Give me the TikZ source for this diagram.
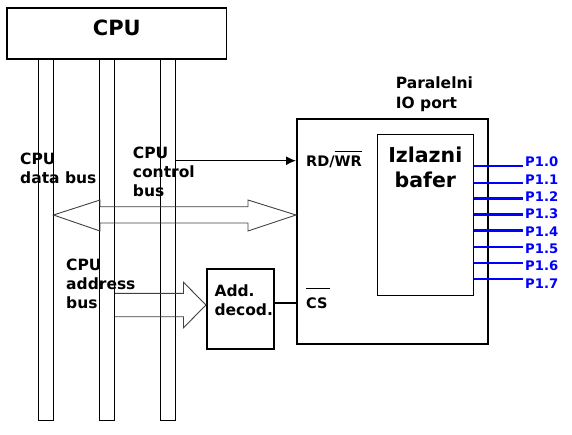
\documentclass[tikz,border=0pt]{standalone}
\usepackage{fontspec}
\setmainfont{DejaVu Sans}
\usetikzlibrary{arrows.meta,calc}
\newcommand{\ovbar}[2]{\vbox{\hrule height 1pt\kern#1\hbox{#2}}}
\tikzset{
  lbl/.style={font=\bfseries\fontsize{15.5}{19}\selectfont, inner sep=0pt, anchor=base west, align=left},
  small/.style={font=\bfseries\fontsize{14.5}{17}\selectfont, inner sep=0pt, anchor=base west},
  plbl/.style={font=\bfseries\fontsize{13.2}{16}\selectfont, inner sep=0pt, anchor=base west, text=pblue},
  colbox/.style={draw, line width=1pt, minimum width=14.5pt, minimum height=361pt, inner sep=0pt},
  thickbox/.style={draw, line width=2pt, inner sep=0pt},
  bus/.style={draw=black!75, line width=0.9pt, line join=miter},
  pline/.style={draw=pblue, line width=2.2pt},
}
\definecolor{pblue}{RGB}{0,0,255}
\begin{document}
\begin{tikzpicture}[x=1pt,y=-1pt]
\useasboundingbox (0,0) rectangle (572,434);
% columns
\node[colbox] (col1) at (45.75,239.5) {};
\node[colbox] (col2) at (107,239.5) {};
\node[colbox] (col3) at (168,239.5) {};
% CPU box
\node[draw, line width=1.3pt, minimum width=219.5pt, minimum height=51pt, inner sep=0pt, fill=white] (cpu) at (116.8,33.5) {};
\node[font=\bfseries\fontsize{21}{25}\selectfont, inner sep=0pt, anchor=base] (cputxt) at (116.8,35.7) {CPU};
% port box
\node[thickbox, minimum width=191.3pt, minimum height=224.7pt] (port) at (392.65,231.65) {};
\node[draw, line width=1pt, inner sep=0pt, minimum width=96pt, minimum height=160.7pt] (buf) at (425.3,214.65) {};
\node[font=\bfseries\fontsize{20.5}{25.4}\selectfont, inner sep=0pt, anchor=base, align=center] (buftxt) at (425.3,187.7) {Izlazni\\bafer};
% decoder
\node[thickbox, minimum width=67pt, minimum height=79.7pt] (dec) at (240.5,308.85) {};
\node[lbl] (dectxt) at (214.3,315.7) {Add.\\decod.};
% labels
\node[lbl] (databus) at (20,183) {CPU\\data bus};
\node[lbl] (ctrlbus) at (132.7,196.5) {CPU\\control\\bus};
\node[lbl] (addrbus) at (66,308.3) {CPU\\address\\bus};
\node[lbl, font=\bfseries\fontsize{15.5}{20}\selectfont] (porttxt) at (395.7,108.3) {Paralelni\\IO port};
\node[small] (rdwr) at (306,166.7) {RD/\ovbar{4.5pt}{WR}};
\node[small] (cs) at (306,308.3) {\ovbar{9pt}{CS\kern2pt}};
% control arrow
\coordinate (ctl) at (0,160.7);
\draw[line width=1.3pt, -{Latex[length=10pt,width=9pt]}] (col3.east |- ctl) -- (port.west |- ctl);
% CS line
\coordinate (csy) at (0,303.3);
\draw[line width=2pt] (dec.east |- csy) -- (port.west |- csy);
% data bus double arrow
\coordinate (dy) at (0,215);
\draw[bus] (col1.east |- dy) -- (100,200) -- (100,206.7) -- (248,206.7) -- (248,200) -- (port.west |- dy)
  -- (248,231) -- (248,223) -- (100,223) -- (100,231) -- cycle;
% address bus arrow
\draw[bus] (col2.east |- 0,293.3) -- (183.5,293.3) -- (183.5,282.3) -- (dec.west |- 0,305)
  -- (183.5,327.7) -- (183.5,316.7) -- (col2.east |- 0,316.7);
% port lines
\foreach \i/\ly in {0/166.3,1/182.6,2/198.5,3/214.4,4/230.4,5/247.1,6/262.7,7/279.3}{
  \coordinate (pe\i) at (522.7,\ly);
  \draw[pline] (buf.east |- pe\i) -- (pe\i);
  \node[plbl] (p\i) at (525,166.7+17.37*\i) {P1.\i};
}
\end{tikzpicture}
\end{document}
